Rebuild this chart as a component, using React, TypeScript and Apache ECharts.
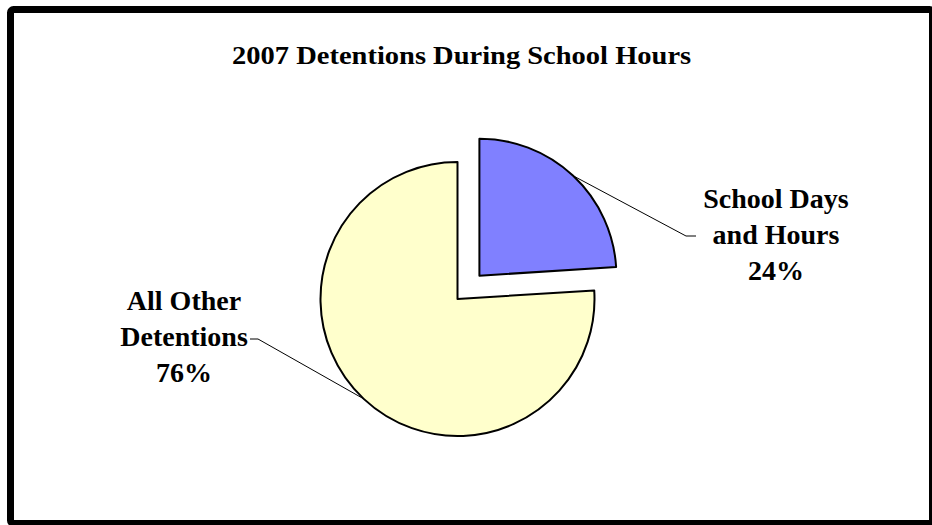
import React, { useEffect, useRef } from "react";
import * as echarts from "echarts";

const TITLE = "2007 Detentions During School Hours";
const categories = ["School Days\nand Hours", "All Other\nDetentions"];
const values = [24, 76];
const colors = ["#8080FF", "#FFFFCC"];

export default function App() {
  const ref = useRef<HTMLDivElement>(null);
  useEffect(() => {
    if (!ref.current) return;
    const chart = echarts.init(ref.current, null, { renderer: "svg" });
    const cx = 457.5;
    const cy = 299;
    const R = 137;
    const explode = 32;
    const total = values.reduce((a, b) => a + b, 0);
    const labelPos = [
      { x: 776, y: 234, p1: [686, 236], p2: [696, 236] },
      { x: 184, y: 336, p1: [258, 339], p2: [250, 339] },
    ];

    // build one pie per slice so each can sit at its own (exploded) centre
    let acc = 0;
    const series = values.map((v, k) => {
      const mid = ((acc + v / 2) / total) * 2 * Math.PI;
      acc += v;
      const off = k === 0 ? explode : 0;
      const center = [cx + off * Math.sin(mid), cy - off * Math.cos(mid)];
      return {
        type: "pie",
        center,
        radius: R,
        startAngle: 90,
        clockwise: true,
        emphasis: { disabled: true },
        silent: true,
        label: {
          show: true,
          position: "outside",
          formatter: "{b}\n{d}%",
          fontFamily: "Liberation Serif",
          fontWeight: "bold",
          fontSize: 28,
          lineHeight: 36,
          color: "#000",
          align: "center",
        },
        labelLine: {
          show: true,
          lineStyle: { color: "#000", width: 1 },
        },
        labelLayout: (params: any) => {
          const lp = labelPos[params.dataIndex];
          const pts = params.labelLinePoints;
          const start = pts ? pts[0] : lp.p1;
          return {
            x: lp.x,
            y: lp.y,
            align: "center",
            verticalAlign: "middle",
            labelLinePoints: [start, lp.p1, lp.p2],
          };
        },
        data: categories.map((c, i) => {
          const visible = i === k;
          return {
            name: c,
            value: values[i],
            itemStyle: visible
              ? { color: colors[i], borderColor: "#000", borderWidth: 2 }
              : { color: "rgba(0,0,0,0)", borderWidth: 0 },
            label: { show: visible },
            labelLine: { show: visible },
          };
        }),
      };
    });

    chart.setOption({
      animation: false,
      backgroundColor: "#ffffff",
      graphic: [
        {
          type: "rect",
          shape: { x: 10.5, y: 9.5, width: 922, height: 514, r: 3 },
          style: { fill: "none", stroke: "#000", lineWidth: 7 },
          z: 10,
        },
        {
          type: "text",
          x: 461.6,
          y: 56,
          scaleX: 1.14,
          style: {
            text: TITLE,
            fontFamily: "Liberation Serif",
            fontWeight: "bold",
            fontSize: 25,
            fill: "#000",
            align: "center",
            verticalAlign: "middle",
          },
        },
      ],
      series,
    });
    return () => chart.dispose();
  }, []);
  return (
    <div
      ref={ref}
      style={{ position: "fixed", left: 0, top: 0, width: 932, height: 525 }}
    />
  );
}
